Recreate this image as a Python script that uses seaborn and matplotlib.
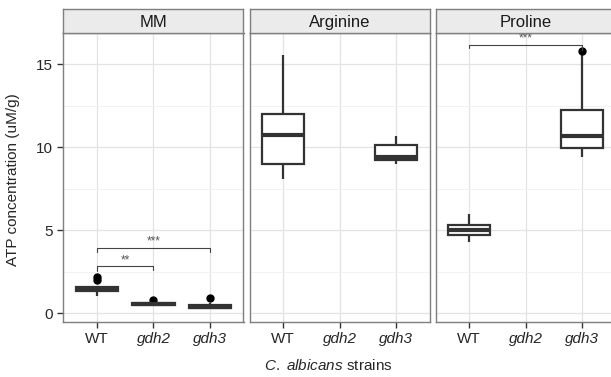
import numpy as np
import pandas as pd
import matplotlib
matplotlib.use("Agg")
import matplotlib.pyplot as plt
import seaborn as sns

# Datos (concentración de ATP, uM/g)
media = ["MM", "Arginine", "Proline"]
strains = ["WT", "gdh2", "gdh3"]

mm_wt = [1.05, 1.2, 1.32, 1.4, 1.45, 1.5, 1.57, 2.0, 2.2]
mm_gdh2 = [0.48, 0.5, 0.5, 0.53, 0.55, 0.57, 0.6, 0.62, 0.8]
mm_gdh3 = [0.3, 0.32, 0.33, 0.37, 0.4, 0.43, 0.47, 0.6, 0.9]
arg_wt = [8.07, 8.98, 10.72, 11.99, 15.58]
arg_gdh3 = [9.02, 9.26, 9.42, 10.12, 10.66]
pro_wt = [4.3, 4.74, 5.04, 5.34, 6.0]
pro_gdh3 = [9.42, 9.7, 9.93, 10.3, 10.66, 11.5, 12.25, 15.65, 15.8]

# Corchetes de significancia: (panel, desde, hasta, altura, punta_izq, punta_der, etiqueta)
brackets = [
    ("MM", "WT", "gdh2", 2.83, 2.55, 2.6, "**"),
    ("MM", "WT", "gdh3", 3.96, 3.69, 3.69, "***"),
    ("Proline", "WT", "gdh3", 16.18, 16.0, 15.85, "***"),
]

groups = {
    ("MM", "WT"): mm_wt, ("MM", "gdh2"): mm_gdh2, ("MM", "gdh3"): mm_gdh3,
    ("Arginine", "WT"): arg_wt, ("Arginine", "gdh3"): arg_gdh3,
    ("Proline", "WT"): pro_wt, ("Proline", "gdh3"): pro_gdh3,
}
rows = []
for (m, s), vals in groups.items():
    for v in vals:
        rows.append({"medium": m, "strain": s, "atp": v})
df = pd.DataFrame(rows)

sns.set_style("white")
plt.rcParams["font.family"] = ["Liberation Sans", "DejaVu Sans"]
plt.rcParams["mathtext.fontset"] = "custom"
plt.rcParams["mathtext.rm"] = "Liberation Sans"
plt.rcParams["mathtext.it"] = "Liberation Sans:italic"

W, H = 611, 377
fig = plt.figure(figsize=(W / 100, H / 100), dpi=100)

lefts = [63.5, 249.5, 435.5]
pw = 180
top, bottom = 33.3, 321.7
strip_top = 9.3
ylim = (-0.51, 16.87)
line_col = "#333333"
border_col = "#7f7f7f"
fs = 11

axes = []
for i, m in enumerate(media):
    ax = fig.add_axes([lefts[i] / W, 1 - bottom / H, pw / W, (bottom - top) / H])
    axes.append(ax)
    ax.set_facecolor("white")
    ax.set_axisbelow(True)
    sns.boxplot(data=df[df["medium"] == m], x="strain", y="atp", order=strains,
                color="white", saturation=1, linecolor=line_col, linewidth=1.6,
                width=0.75, ax=ax, showcaps=False,
                medianprops=dict(linewidth=3, color=line_col),
                flierprops=dict(marker="o", markersize=5, markerfacecolor="black",
                                markeredgecolor="black"))
    ax.set_xlim(-0.6, 2.6)
    ax.set_ylim(*ylim)
    ax.set_yticks([0, 5, 10, 15])
    ax.set_yticks([2.5, 7.5, 12.5], minor=True)
    ax.grid(True, which="major", color="#e3e3e3", linewidth=0.9)
    ax.grid(True, which="minor", axis="y", color="#f0f0f0", linewidth=0.6)
    for sp in ax.spines.values():
        sp.set_color(border_col)
        sp.set_linewidth(1.0)
    ax.set_xlabel("")
    ax.set_ylabel("")
    ax.tick_params(axis="x", which="major", length=4.5, width=1.0, color=line_col,
                   labelsize=fs, pad=3, direction="out", bottom=True)
    ax.set_xticks(range(3))
    ax.set_xticklabels(strains)
    for lab in ax.get_xticklabels():
        if lab.get_text() != "WT":
            lab.set_fontstyle("italic")
    if i == 0:
        ax.tick_params(axis="y", which="major", length=4.5, width=1.0, color=line_col,
                       labelsize=fs, pad=3, left=True)
        ax.tick_params(axis="y", which="minor", length=0)
    else:
        ax.tick_params(axis="y", which="both", length=0, labelleft=False)

    # Encabezado del panel
    sax = fig.add_axes([lefts[i] / W, 1 - top / H, pw / W, (top - strip_top) / H])
    sax.set_facecolor("#ebebeb")
    sax.set_xticks([])
    sax.set_yticks([])
    for sp in sax.spines.values():
        sp.set_color(border_col)
        sp.set_linewidth(1.0)
    sax.text(0.5, 0.45, m, ha="center", va="center", fontsize=12, color="#1a1a1a",
             transform=sax.transAxes)

# Corchetes de significancia
for m, a, b, yb, t1, t2, lab in brackets:
    ax = axes[media.index(m)]
    x1, x2 = strains.index(a), strains.index(b)
    ax.plot([x1, x1, x2, x2], [t1, yb, yb, t2], color="#444444", linewidth=0.8)
    ax.text((x1 + x2) / 2, yb + 0.02, lab, ha="center", va="bottom", fontsize=8.5,
            color="#555555")

fig.text(13.5 / W, 1 - 180 / H, "ATP concentration (uM/g)", rotation=90,
         ha="center", va="center", fontsize=fs)
fig.text(328 / W, 1 - 366 / H, r"$\it{C.\ albicans}$ strains", ha="center",
         va="center", fontsize=fs)

fig.savefig("out.png", dpi=100)
plt.close(fig)
